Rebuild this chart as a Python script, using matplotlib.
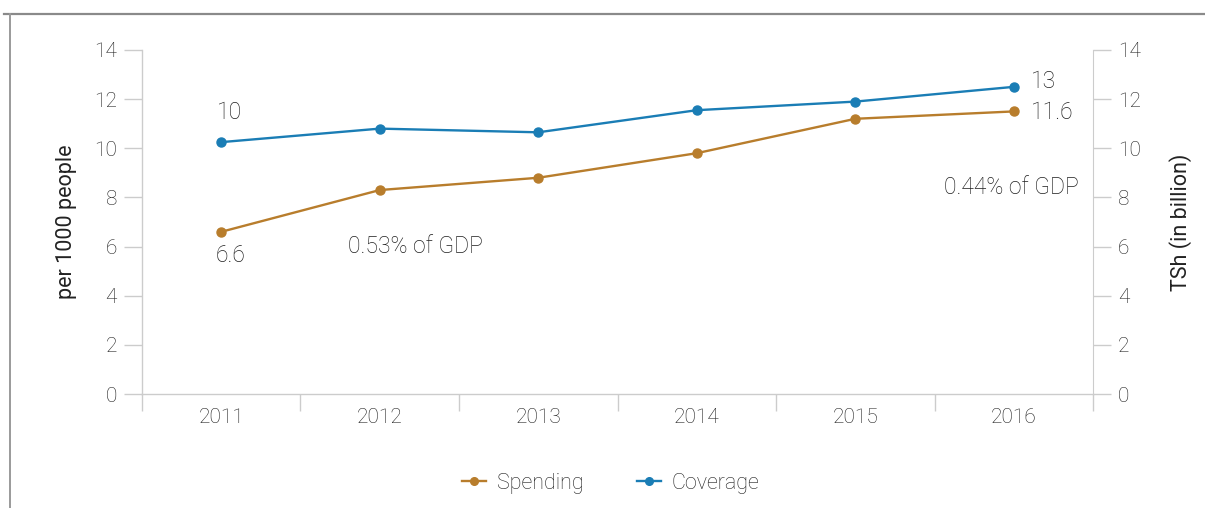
import matplotlib.pyplot as plt
from matplotlib.lines import Line2D

years = ['2011', '2012', '2013', '2014', '2015', '2016']
spending = [6.6, 8.3, 8.8, 9.8, 11.2, 11.5]
coverage = [10.25, 10.8, 10.65, 11.55, 11.9, 12.5]

spend_col = '#b87d2c'
cover_col = '#1a7db5'
grid_col = '#cccccc'
text_col = '#1e1e1e'

plt.rcParams['font.family'] = ['Roboto', 'DejaVu Sans']
plt.rcParams['font.weight'] = 'light'

fig = plt.figure(figsize=(12.05, 5.08), dpi=100)
ax = fig.add_axes([0.1178, 0.2244, 0.7893, 0.6772])

x = list(range(len(years)))
ax.plot(x, spending, color=spend_col, lw=1.7, marker='o', ms=6.5, label='Spending')
ax.plot(x, coverage, color=cover_col, lw=1.7, marker='o', ms=6.5, label='Coverage')

ax.set_xlim(-0.5, len(years) - 0.5)
ax.set_ylim(0, 14)
ax.set_yticks(range(0, 15, 2))
ax.set_xticks(x)
ax.set_xticklabels(years)
ax.set_xticks([i - 0.5 for i in range(len(years) + 1)], minor=True)

for s in ['top', 'right']:
    ax.spines[s].set_visible(False)
for s in ['left', 'bottom']:
    ax.spines[s].set_color(grid_col)
    ax.spines[s].set_linewidth(1)

ax.tick_params(axis='x', which='major', length=0, pad=10, labelsize=15, labelcolor=text_col)
ax.tick_params(axis='x', which='minor', length=12, width=1, color=grid_col)
ax.tick_params(axis='y', length=13, width=1, color=grid_col, pad=5, labelsize=15, labelcolor=text_col)
ax.set_ylabel('per 1000 people', fontsize=15.5, color='#222222', labelpad=12, fontweight='normal')

ax2 = ax.twinx()
ax2.set_ylim(0, 14)
ax2.set_yticks(range(0, 15, 2))
for s in ['top', 'left', 'bottom']:
    ax2.spines[s].set_visible(False)
ax2.spines['right'].set_color(grid_col)
ax2.tick_params(axis='y', length=13, width=1, color=grid_col, pad=5, labelsize=15, labelcolor=text_col)
ax2.set_ylabel('TSh (in billion)', fontsize=15.5, color='#222222', labelpad=20, rotation=90,
               fontweight='normal')
ax2.yaxis.set_label_position('right')

# value annotations
kw = dict(textcoords='offset points', fontsize=16.5, color=text_col)
ax.annotate('10', (x[0], coverage[0]), xytext=(6, 21), ha='center', va='center', **kw)
ax.annotate('6.6', (x[0], spending[0]), xytext=(7, -17), ha='center', va='center', **kw)
ax.annotate('0.53% of GDP', (x[1], spending[1]), xytext=(26, -41), ha='center', va='center', **kw)
ax.annotate('13', (x[5], coverage[5]), xytext=(12, 4), ha='left', va='center', **kw)
ax.annotate('11.6', (x[5], spending[5]), xytext=(12, -1), ha='left', va='center', **kw)
ax.annotate('0.44% of GDP', (x[5], spending[5]), xytext=(-2, -55), ha='center', va='center', **kw)

handles = [Line2D([], [], color=spend_col, lw=1.7, marker='o', ms=5.5),
           Line2D([], [], color=cover_col, lw=1.7, marker='o', ms=5.5)]
fig.legend(handles, ['Spending', 'Coverage'], loc='center', bbox_to_anchor=(0.507, 0.049),
           ncol=2, frameon=False, fontsize=15.5, handlelength=1.1, columnspacing=2.5,
           handletextpad=0.5, labelcolor=text_col)

# outer frame lines
fig.add_artist(Line2D([4 / 1205, 1], [1 - 14 / 508, 1 - 14 / 508], color='#8a8a8a', lw=1.6))
fig.add_artist(Line2D([10 / 1205, 10 / 1205], [0, 1 - 14 / 508], color='#9a9a9a', lw=1.4))

fig.savefig('out.png', dpi=100)
